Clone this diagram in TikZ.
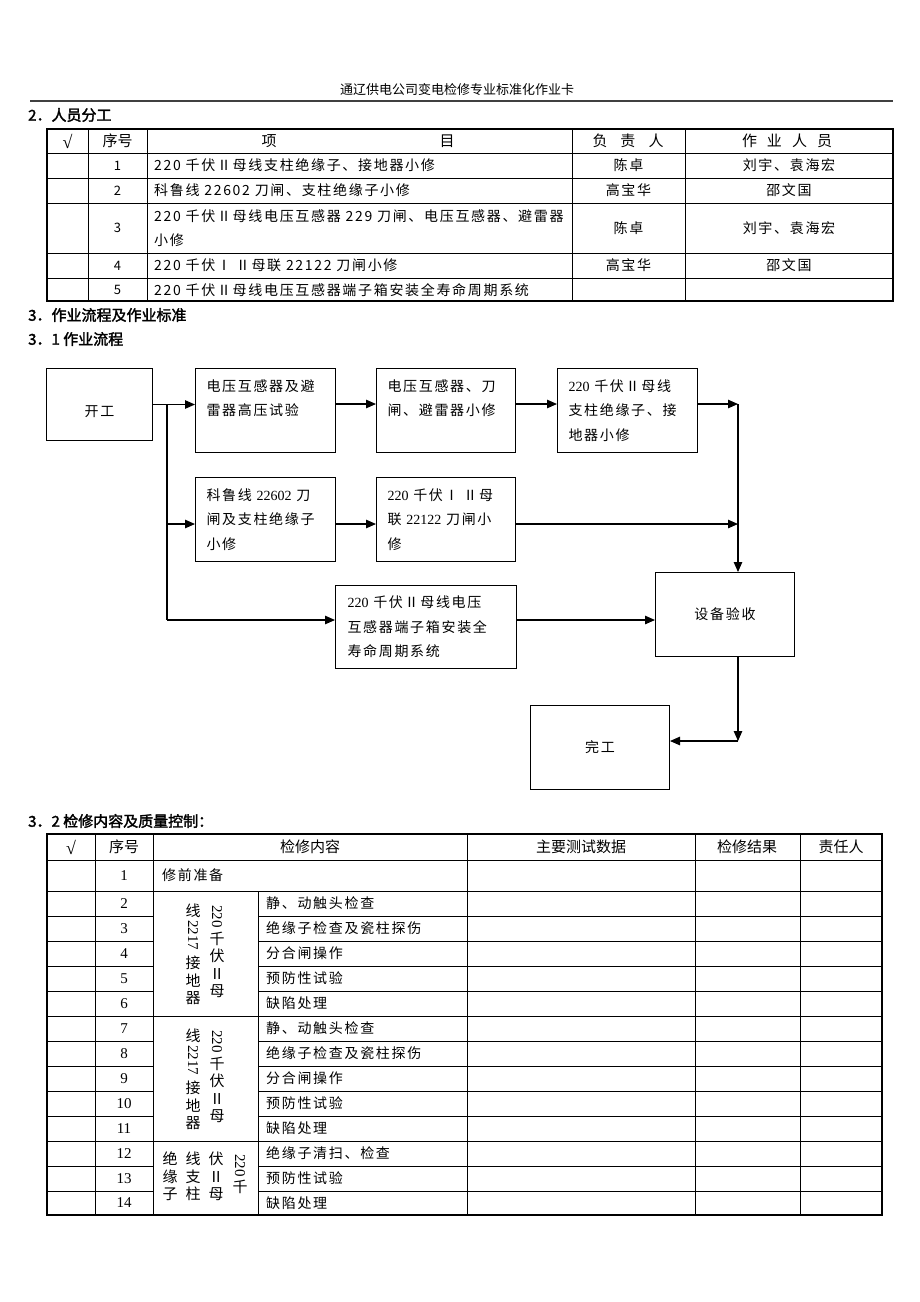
\documentclass[tikz,border=0pt]{standalone}
\usepackage{fontspec}
\setmainfont{Liberation Serif}
\newfontfamily\cjk[LetterSpace=12]{Noto Sans CJK SC}
\newfontfamily\cjkn{Noto Sans CJK SC}
\newfontfamily\cjkb[FakeBold=2]{Noto Sans CJK SC}
\usetikzlibrary{arrows.meta}
\newcommand\bodyfont{\cjk\fontsize{14}{24.5}\selectfont}
\newcommand\dg[1]{{\rmfamily #1}}
\newcommand\vfont{\cjkn\fontsize{15}{17.5}\selectfont}
\newcommand\hfont{\cjkn\fontsize{15}{15}\selectfont}
\newcommand\numfont{\rmfamily\fontsize{15}{15}\selectfont}
\newcommand\rot[1]{\rotatebox{-90}{\rmfamily #1}}
\newcommand\rotup[1]{\raisebox{14pt}{\rotatebox{-90}{\rmfamily #1}}}
\tikzset{
  box/.style={draw, line width=1pt, inner sep=0pt, anchor=north west, font=\bodyfont},
  arr/.style={line width=1.1pt, -{Triangle[length=10pt,width=8.5pt]}},
  ln/.style={line width=1.1pt},
  outer/.style={line width=1.5pt},
  inner/.style={line width=0.6pt},
  head/.style={anchor=west, inner sep=0pt, font=\cjkb\fontsize{15}{15}\selectfont},
  th/.style={inner sep=0pt, font=\hfont},
  chk/.style={inner sep=0pt, font=\rmfamily\fontsize{18}{18}\selectfont},
  td/.style={inner sep=0pt, font=\bodyfont},
  tdl/.style={inner sep=0pt, anchor=west, align=left, font=\bodyfont},
  tn/.style={inner sep=0pt, font=\cjkn\fontsize{13}{13}\selectfont},
  tn2/.style={inner sep=0pt, font=\numfont},
  vt/.style={inner sep=0pt, anchor=north, align=center, font=\vfont},
}
\begin{document}
\begin{tikzpicture}[x=1pt,y=-1pt]
\useasboundingbox (0,0) rectangle (920,1302);
\fill[white] (0,0) rectangle (920,1302);

% page header
\node[inner sep=0pt, font=\cjkn\fontsize{13}{13}\selectfont] (hdr) at (457,90) {通辽供电公司变电检修专业标准化作业卡};
\draw[line width=1.3pt, black!75] (30,101) -- (893,101);

% ---------- section 2 ----------
\node[head] (h2) at (28,115) {2．人员分工};

\draw[outer] (47,129) rectangle (893,301);
\foreach \yy in {153,178,203,253,278} \draw[inner] (47,\yy) -- (893,\yy);
\foreach \xx in {88,147,572,685} \draw[inner] (\xx,129) -- (\xx,301);

\node[chk] (t1hc) at (67.5,141) {√};
\node[th] (t1hn) at (117.5,141) {序号};
\node[th] (t1hx) at (269,141) {项};
\node[th] (t1hy) at (447,141) {目};
\node[th] (t1hf) at (628,141) {负\hspace{13pt}责\hspace{13pt}人};
\node[th] (t1hw) at (787,141) {作\hspace{10pt}业\hspace{10pt}人\hspace{10pt}员};

\node[tn] (t1n1) at (117.5,165.5) {1};
\node[tdl] (t1i1) at (154,165.5) {220 千伏Ⅱ母线支柱绝缘子、接地器小修};
\node[td] (t1l1) at (628.5,165.5) {陈卓};
\node[td] (t1w1) at (789,165.5) {刘宇、袁海宏};

\node[tn] (t1n2) at (117.5,190.5) {2};
\node[tdl] (t1i2) at (154,190.5) {科鲁线 22602 刀闸、支柱绝缘子小修};
\node[td] (t1l2) at (628.5,190.5) {高宝华};
\node[td] (t1w2) at (789,190.5) {邵文国};

\node[tn] (t1n3) at (117.5,228) {3};
\node[tdl] (t1i3) at (154,228) {220 千伏Ⅱ母线电压互感器 229 刀闸、电压互感器、避雷器\\小修};
\node[td] (t1l3) at (628.5,228) {陈卓};
\node[td] (t1w3) at (789,228) {刘宇、袁海宏};

\node[tn] (t1n4) at (117.5,265.5) {4};
\node[tdl] (t1i4) at (154,265.5) {220 千伏Ⅰ Ⅱ母联 22122 刀闸小修};
\node[td] (t1l4) at (628.5,265.5) {高宝华};
\node[td] (t1w4) at (789,265.5) {邵文国};

\node[tn] (t1n5) at (117.5,290) {5};
\node[tdl] (t1i5) at (154,290) {220 千伏Ⅱ母线电压互感器端子箱安装全寿命周期系统};

% ---------- section 3 ----------
\node[head] (h3) at (28,315) {3．作业流程及作业标准};
\node[head] (h31) at (28,339) {3．1 作业流程};

% flowchart boxes
\node[box, minimum width=106, minimum height=72, text height=23pt, text depth=0pt] (start) at (46,368) {开工};
\node[box, minimum width=140, minimum height=84] (a) at (195,368) {\parbox[c][62pt][t]{118pt}{\raggedright 电压互感器及避\\雷器高压试验}};
\node[box, minimum width=139, minimum height=84] (b) at (376,368) {\parbox[c][62pt][t]{117pt}{\raggedright 电压互感器、刀\\闸、避雷器小修}};
\node[box, minimum width=140, minimum height=84] (c) at (557,368) {\parbox[c][62pt][t]{118pt}{\raggedright \dg{220} 千伏Ⅱ母线\\支柱绝缘子、接\\地器小修}};
\node[box, minimum width=140, minimum height=84] (d) at (195,477) {\parbox[c][62pt][t]{118pt}{\raggedright 科鲁线 \dg{22602} 刀\\闸及支柱绝缘子\\小修}};
\node[box, minimum width=139, minimum height=84] (e) at (376,477) {\parbox[c][62pt][t]{117pt}{\raggedright \dg{220} 千伏Ⅰ Ⅱ母\\联 \dg{22122} 刀闸小\\修}};
\node[box, minimum width=181, minimum height=83] (f) at (335,585) {\parbox[c][62pt][t]{157pt}{\raggedright \dg{220} 千伏Ⅱ母线电压\\互感器端子箱安装全\\寿命周期系统}};
\node[box, minimum width=139, minimum height=84] (acc) at (655,572) {设备验收};
\node[box, minimum width=139, minimum height=84] (fin) at (530,705) {完工};

\coordinate (j1) at (167,404);
\coordinate (j2) at (167,524);
\coordinate (j3) at (167,620);
\coordinate (k1) at (738,404);
\coordinate (k2) at (738,524);
\coordinate (k3) at (738,741);

\draw[arr] (start.east) -- (a.west |- start.east);
\draw[ln] (j1) -- (j3);
\draw[arr] (j2) -- (d.west |- j2);
\draw[arr] (j3) -- (f.west |- j3);
\draw[arr] (a.east |- j1) -- (b.west |- j1);
\draw[arr] (b.east |- j1) -- (c.west |- j1);
\draw[arr] (c.east |- j1) -- (k1);
\draw[arr] (k1) -- (k1 |- acc.north);
\draw[arr] (d.east |- j2) -- (e.west |- j2);
\draw[arr] (e.east |- j2) -- (k2);
\draw[arr] (f.east |- j3) -- (acc.west |- j3);
\draw[arr] (k1 |- acc.south) -- (k3);
\draw[arr] (k3) -- (fin.east |- k3);

% ---------- section 3.2 ----------
\node[head] (h32) at (28,821) {3．2 检修内容及质量控制：};

\draw[outer] (47,834) rectangle (882,1215);
\foreach \yy in {860,891,1016,1141} \draw[inner] (47,\yy) -- (882,\yy);
\foreach \yy in {916,941,966,991,1041,1066,1091,1116,1166,1191} {
  \draw[inner] (47,\yy) -- (153,\yy);
  \draw[inner] (258,\yy) -- (882,\yy);
}
\foreach \xx in {95,153,467,695,800} \draw[inner] (\xx,834) -- (\xx,1215);
\draw[inner] (258,891) -- (258,1215);

\node[chk] (t2hc) at (71,847) {√};
\node[th] (t2hn) at (124,847) {序号};
\node[th] (t2hx) at (310,847) {检修内容};
\node[th] (t2hd) at (581,847) {主要测试数据};
\node[th] (t2hr) at (747,847) {检修结果};
\node[th] (t2hp) at (841,847) {责任人};

\node[tn2] (t2n1) at (124,875.5) {1};
\node[tdl] (t2c1) at (162,875.5) {修前准备};

\foreach \i/\yy/\txt in {2/903.5/静、动触头检查, 3/928.5/绝缘子检查及瓷柱探伤, 4/953.5/分合闸操作, 5/978.5/预防性试验, 6/1003.5/缺陷处理,
  7/1028.5/静、动触头检查, 8/1053.5/绝缘子检查及瓷柱探伤, 9/1078.5/分合闸操作, 10/1103.5/预防性试验, 11/1128.5/缺陷处理,
  12/1153.5/绝缘子清扫、检查, 13/1178.5/预防性试验, 14/1203/缺陷处理} {
  \node[tn2] (t2n\i) at (124,\yy) {\i};
  \node[tdl] (t2c\i) at (266,\yy) {\txt};
}

% vertical group labels
\node[vt] (g1r) at (217,905) {\rot{220}\\[3pt]千\\伏\\Ⅱ\\母};
\node[vt] (g1l) at (193,904) {线\\\rotup{2217}\\[5pt]接\\地\\器};
\node[vt] (g2r) at (217,1030) {\rot{220}\\[3pt]千\\伏\\Ⅱ\\母};
\node[vt] (g2l) at (193,1029) {线\\\rotup{2217}\\[5pt]接\\地\\器};
\node[vt] (g3a) at (240,1154) {\rot{220}\\[2pt]千};
\node[vt] (g3b) at (216,1152) {伏\\Ⅱ\\母};
\node[vt] (g3c) at (193,1152) {线\\支\\柱};
\node[vt] (g3d) at (170,1152) {绝\\缘\\子};
\end{tikzpicture}
\end{document}
